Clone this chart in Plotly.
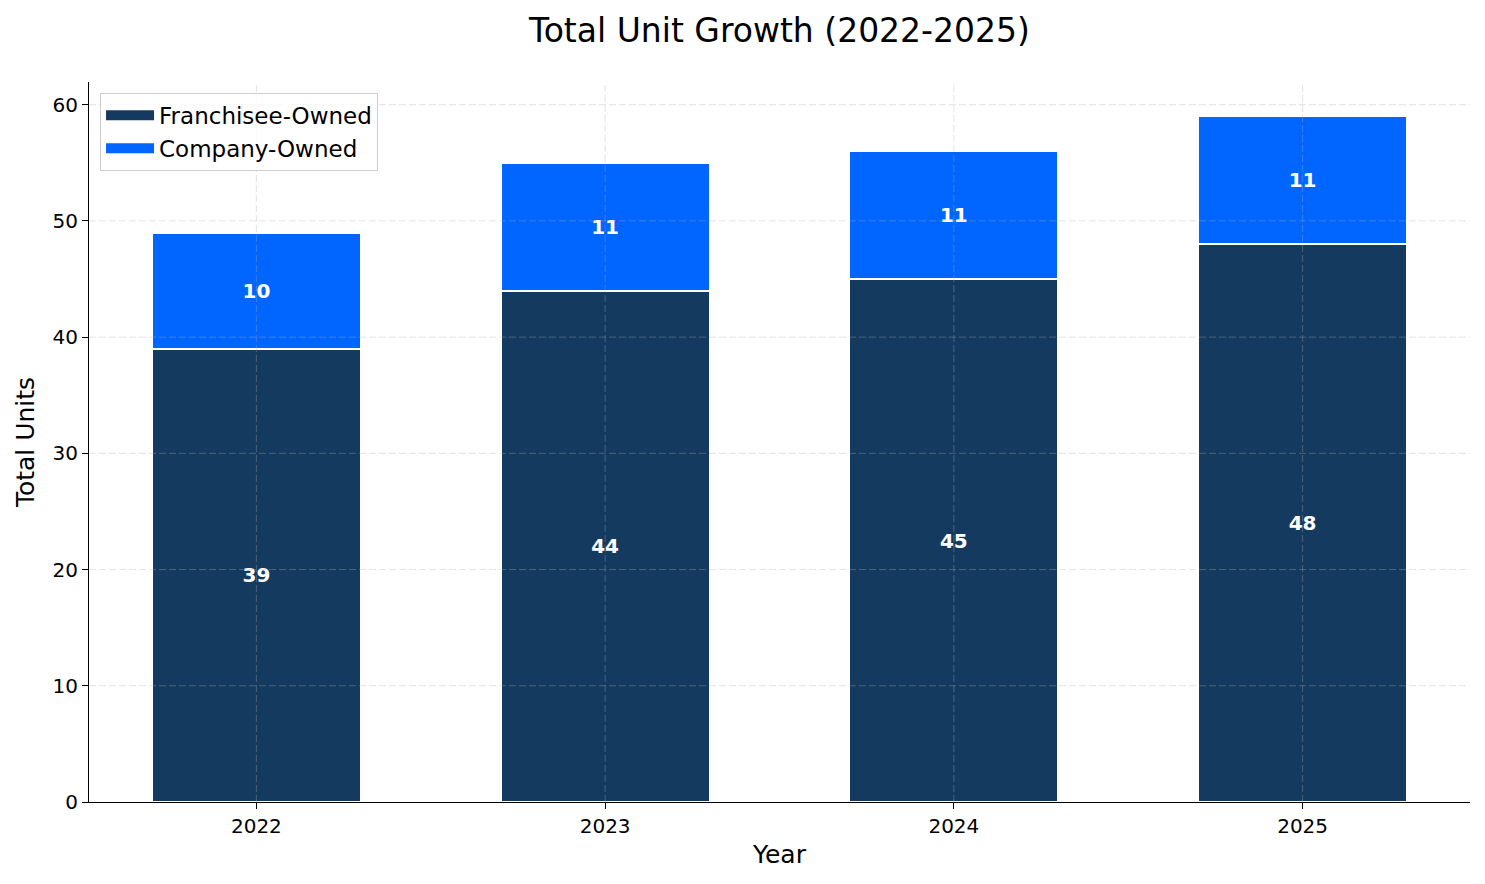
import plotly.graph_objects as go

years = ["2022", "2023", "2024", "2025"]
franchisee = [39, 44, 45, 48]
company = [10, 11, 11, 11]
y_ticks = [0, 10, 20, 30, 40, 50, 60]

FONT = "DejaVu Sans"
navy = "#153A60"
blue = "#0066FF"

fig = go.Figure()
for name, vals, col in [("Franchisee-Owned", franchisee, navy), ("Company-Owned", company, blue)]:
    fig.add_trace(go.Bar(
        x=years, y=vals, name=name, showlegend=False,
        marker=dict(color=col, line=dict(color="white", width=2)),
        text=[str(v) for v in vals], textposition="inside",
        insidetextanchor="middle", textangle=0, constraintext="none",
        textfont=dict(family=FONT, size=20, color="white", weight="bold"),
    ))
    fig.add_trace(go.Scatter(
        x=[years[0]], y=[None], name=name, mode="lines",
        line=dict(color=col, width=13), showlegend=True, hoverinfo="skip",
    ))

grid = "rgba(176,176,176,0.35)"
shapes = []
for v in y_ticks[1:]:
    shapes.append(dict(type="line", xref="paper", yref="y", x0=0, x1=1, y0=v, y1=v,
                       line=dict(color=grid, width=1, dash="7px,3px"), layer="above"))
for i, _ in enumerate(years):
    shapes.append(dict(type="line", xref="x", yref="paper", x0=i, x1=i, y0=0, y1=1,
                       line=dict(color=grid, width=1, dash="7px,3px"), layer="above"))

fig.update_layout(
    barmode="stack", bargap=0.4,
    width=1469, height=868,
    margin=dict(l=81, r=7, t=74, b=74),
    paper_bgcolor="white", plot_bgcolor="white",
    font=dict(family=FONT, color="black"),
    title=dict(text="Total Unit Growth (2022-2025)", x=0.5, xanchor="center", xref="paper",
               yref="container", y=1 - 22 / 868, yanchor="middle",
               font=dict(size=33, family=FONT)),
    legend=dict(x=0.008, y=0.985, xanchor="left", yanchor="top",
                bordercolor="#cccccc", borderwidth=1, bgcolor="rgba(255,255,255,0.8)",
                font=dict(size=23, family=FONT), traceorder="normal",
                itemwidth=48, tracegroupgap=2),
    shapes=shapes,
)
fig.update_xaxes(
    type="category", range=[-0.48, 3.48],
    showline=True, linecolor="black", linewidth=1.2,
    ticks="outside", ticklen=6, tickcolor="black",
    tickfont=dict(size=20, family=FONT),
    showgrid=False,
    title=dict(text="Year", font=dict(size=25, family=FONT), standoff=8),
)
fig.update_yaxes(
    range=[0, 61.95], tickvals=y_ticks,
    showline=True, linecolor="black", linewidth=1.2,
    ticks="outside", ticklen=6, tickcolor="black",
    tickfont=dict(size=20, family=FONT),
    showgrid=False, zeroline=False,
    title=dict(text="Total Units", font=dict(size=25, family=FONT), standoff=10),
)

fig.write_html("out.html")
